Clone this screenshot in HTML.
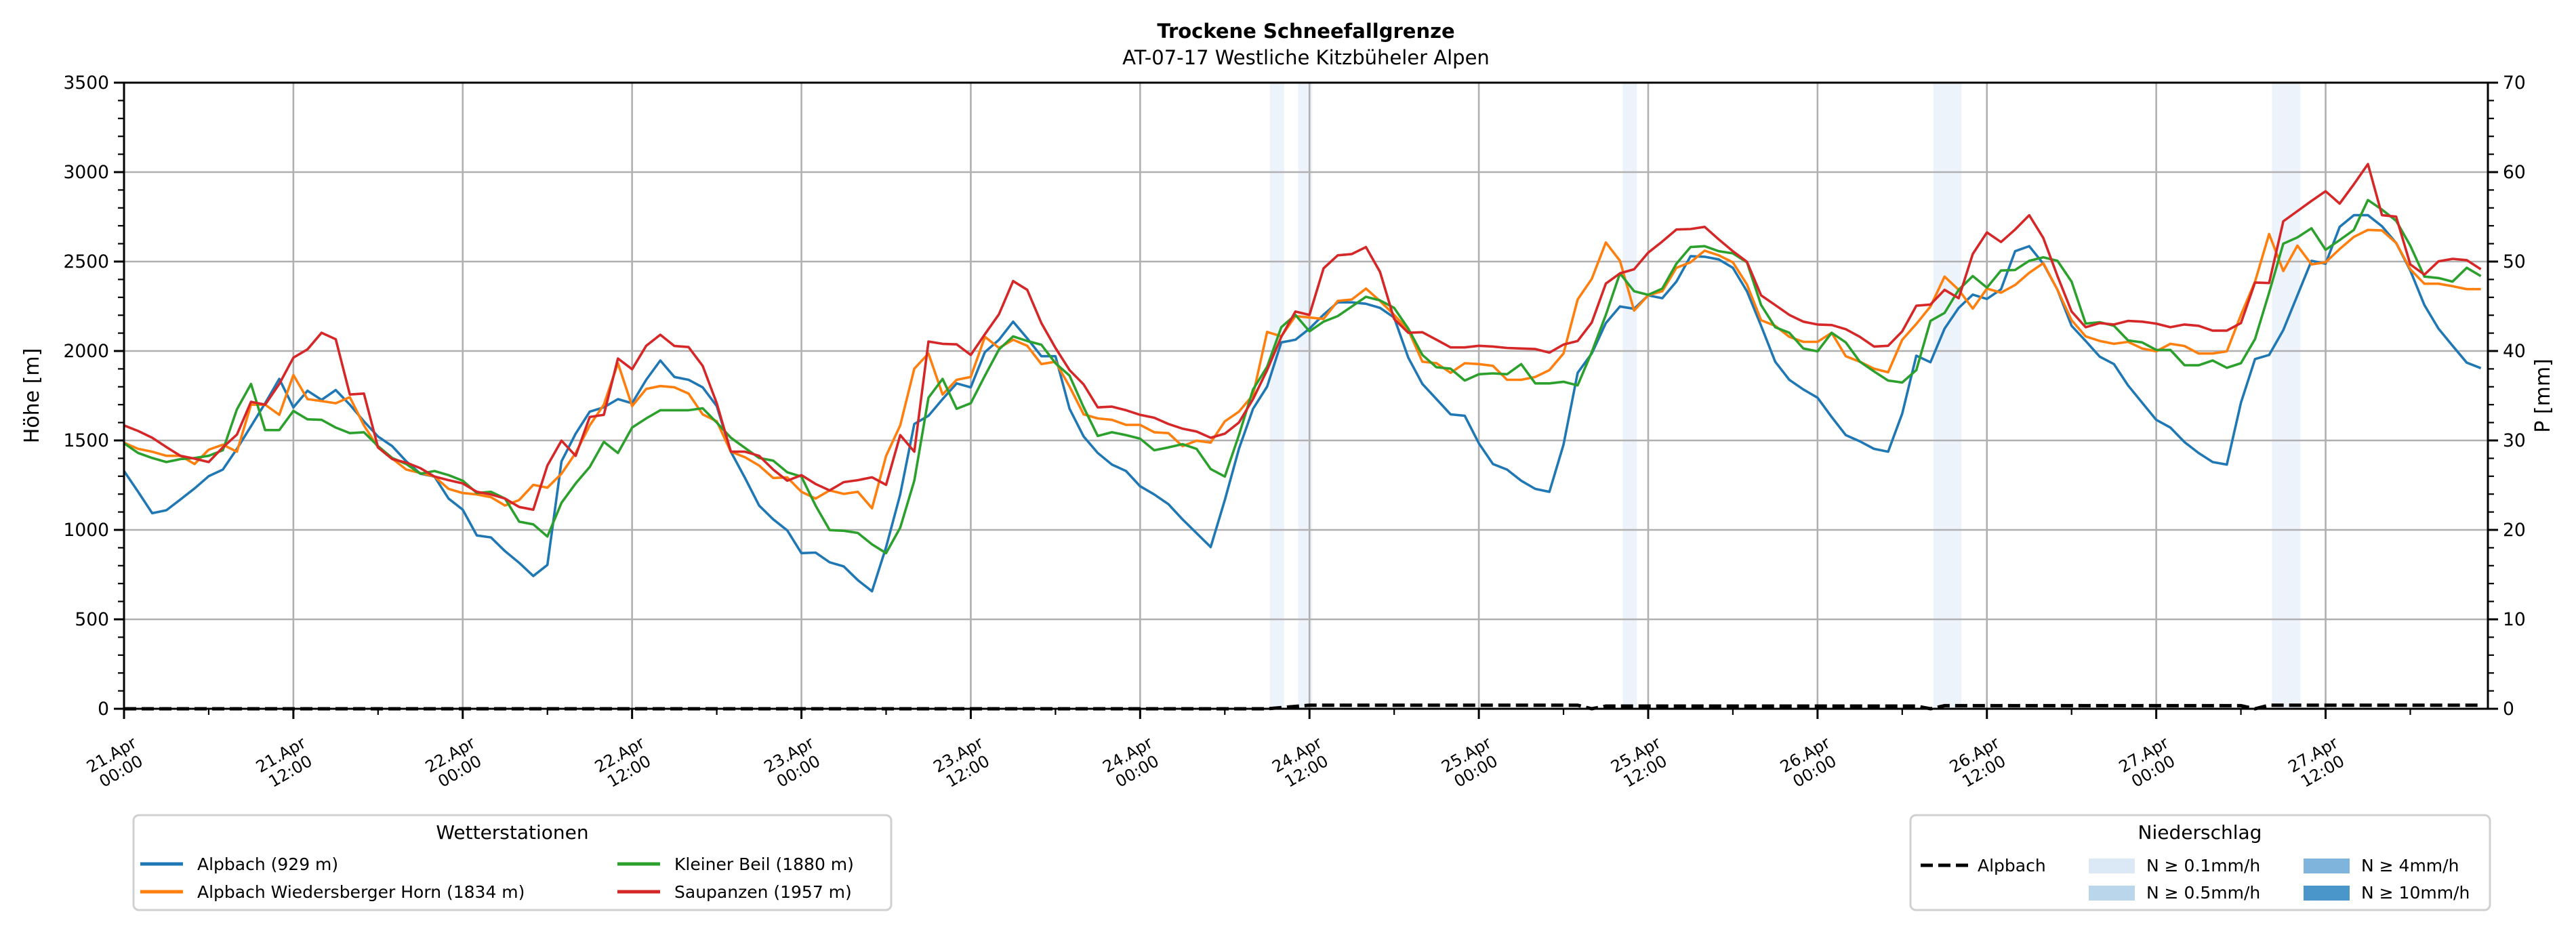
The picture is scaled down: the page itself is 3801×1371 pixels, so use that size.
<!DOCTYPE html>
<html><head><meta charset="utf-8"><style>
html,body{margin:0;padding:0;background:#fff;}
svg{display:block;font-family:"DejaVu Sans","Liberation Sans",sans-serif;}
</style></head><body>
<svg id="chart" width="3801" height="1371" viewBox="0 0 3801 1371" xmlns="http://www.w3.org/2000/svg">
<text x="1927" y="56" text-anchor="middle" font-size="29" font-weight="bold">Trockene Schneefallgrenze</text>
<text x="1927" y="95" text-anchor="middle" font-size="29">AT-07-17 Westliche Kitzbüheler Alpen</text>
<g id="shade"></g>
<g id="grid"></g>
<g id="series"></g>
<g id="axes"></g>
<text transform="translate(57,584) rotate(-90)" text-anchor="middle" font-size="30">Höhe [m]</text>
<text transform="translate(3762,584) rotate(-90)" text-anchor="middle" font-size="30">P [mm]</text>

<g>
<rect x="197" y="1203" width="1118" height="140" rx="8" fill="#fff" stroke="#d0d0d0" stroke-width="3"/>
<text x="756" y="1238" text-anchor="middle" font-size="28">Wetterstationen</text>
<g><line x1="207" y1="1275" x2="270" y2="1275" stroke="#1f77b4" stroke-width="5"/><text x="291" y="1284" font-size="25">Alpbach (929 m)</text></g>
<g><line x1="207" y1="1316" x2="270" y2="1316" stroke="#ff7f0e" stroke-width="5"/><text x="291" y="1325" font-size="25">Alpbach Wiedersberger Horn (1834 m)</text></g>
<g><line x1="911" y1="1275" x2="974" y2="1275" stroke="#2ca02c" stroke-width="5"/><text x="995" y="1284" font-size="25">Kleiner Beil (1880 m)</text></g>
<g><line x1="911" y1="1316" x2="974" y2="1316" stroke="#d62728" stroke-width="5"/><text x="995" y="1325" font-size="25">Saupanzen (1957 m)</text></g>
</g>

<g>
<rect x="2819" y="1203" width="855" height="140" rx="8" fill="#fff" stroke="#d0d0d0" stroke-width="3"/>
<text x="3246" y="1238" text-anchor="middle" font-size="28">Niederschlag</text>
<g><line x1="2834" y1="1277" x2="2904" y2="1277" stroke="#000" stroke-width="5" stroke-dasharray="18,8"/><text x="2918" y="1286" font-size="25">Alpbach</text></g>
<g><rect x="3082" y="1267" width="68" height="22" fill="#dbe9f6"/><text x="3167" y="1286" font-size="25">N ≥ 0.1mm/h</text></g>
<g><rect x="3082" y="1307" width="68" height="22" fill="#bad6eb"/><text x="3167" y="1326" font-size="25">N ≥ 0.5mm/h</text></g>
<g><rect x="3399" y="1267" width="68" height="22" fill="#7fb5dc"/><text x="3484" y="1286" font-size="25">N ≥ 4mm/h</text></g>
<g><rect x="3399" y="1307" width="68" height="22" fill="#4a95c9"/><text x="3484" y="1326" font-size="25">N ≥ 10mm/h</text></g>
</g>
</svg>
<script>
const alpbach = [1329,1213,1093,1110,1170,1232,1300,1337,1453,1580,1708,1844,1685,1778,1727,1782,1700,1607,1522,1468,1383,1314,1298,1175,1113,969,958,881,816,742,804,1383,1538,1661,1685,1731,1708,1839,1947,1855,1839,1797,
1692,1437,1290,1136,1059,997,870,873,819,796,719,657,904,1198,1592,1638,1731,1819,1797,1994,2063,2164,2071,1971,1971,1677,1522,1430,1365,1329,1244,1198,1144,1059,982,904,1167,1453,1677,1801,2048,2063,
2125,2203,2272,2272,2264,2241,2187,1963,1816,1731,1646,1638,1484,1368,1337,1275,1229,1213,1476,1878,1986,2156,2249,2236,2311,2295,2388,2530,2527,2512,2465,2334,2141,1940,1839,1785,1739,1631,1530,1495,1453,1437,
1650,1974,1937,2125,2241,2315,2291,2345,2558,2586,2488,2342,2141,2056,1968,1927,1808,1711,1615,1572,1491,1430,1379,1365,1711,1955,1978,2117,2311,2504,2488,2694,2759,2759,2697,2604,2450,2257,2125,2029,1935,1904];
const wiedersberger = [1487,1453,1437,1414,1414,1368,1448,1476,1437,1700,1700,1643,1866,1731,1720,1708,1742,1584,1461,1399,1337,1318,1298,1229,1206,1198,1183,1136,1167,1252,1236,1314,1430,1584,1700,1932,1692,1788,1804,1797,1762,1646,
1607,1437,1406,1360,1290,1293,1213,1175,1221,1201,1213,1121,1414,1584,1901,1986,1757,1839,1855,2079,2017,2063,2029,1927,1940,1801,1646,1623,1615,1587,1587,1546,1541,1468,1499,1488,1607,1661,1754,2107,2082,2195,
2187,2179,2280,2288,2349,2280,2202,2117,1940,1932,1878,1932,1927,1917,1839,1839,1855,1893,1986,2288,2403,2607,2504,2226,2311,2334,2465,2496,2561,2535,2496,2372,2172,2141,2079,2051,2051,2102,1971,1940,1901,1881,
2063,2151,2249,2416,2342,2237,2349,2326,2369,2437,2491,2342,2172,2082,2056,2040,2051,2014,1998,2040,2028,1986,1986,1998,2202,2388,2654,2447,2589,2484,2496,2570,2638,2677,2674,2604,2457,2376,2376,2362,2346,2346];
const kleinerBeil = [1484,1430,1402,1379,1396,1402,1414,1445,1674,1816,1558,1558,1665,1618,1615,1572,1541,1546,1468,1402,1368,1314,1329,1306,1275,1206,1213,1175,1046,1031,963,1151,1260,1352,1492,1430,1572,1623,1669,1669,1669,1680,
1600,1515,1458,1402,1387,1322,1298,1136,999,995,983,919,870,1012,1275,1739,1844,1677,1708,1862,2009,2082,2056,2035,1932,1862,1685,1525,1546,1530,1510,1445,1461,1479,1453,1340,1298,1530,1785,1912,2133,2202,
2110,2164,2195,2249,2303,2283,2241,2125,1978,1909,1901,1835,1870,1875,1870,1927,1819,1819,1828,1808,1994,2202,2434,2334,2314,2349,2488,2581,2586,2558,2546,2496,2257,2133,2102,2014,1998,2102,2048,1940,1886,1835,
1824,1893,2168,2213,2342,2419,2354,2450,2453,2504,2524,2504,2388,2153,2161,2141,2059,2048,2006,2006,1921,1920,1947,1906,1932,2067,2326,2600,2635,2686,2566,2620,2677,2844,2790,2728,2589,2416,2408,2388,2465,2419];
const saupanzen = [1584,1553,1515,1463,1414,1398,1379,1461,1533,1716,1700,1816,1963,2009,2102,2066,1757,1762,1461,1396,1376,1345,1298,1278,1260,1213,1198,1175,1128,1113,1360,1499,1414,1631,1643,1958,1898,2029,2091,2028,2022,1917,
1708,1437,1437,1414,1337,1275,1306,1257,1221,1267,1278,1294,1252,1530,1437,2053,2040,2037,1978,2094,2206,2391,2342,2156,2017,1893,1813,1685,1689,1669,1643,1627,1592,1566,1550,1515,1538,1600,1731,1893,2079,2221,
2202,2462,2535,2542,2581,2442,2179,2102,2105,2063,2020,2020,2029,2025,2017,2014,2011,1991,2036,2056,2159,2377,2434,2457,2550,2612,2679,2682,2694,2624,2558,2499,2311,2257,2202,2164,2148,2145,2122,2079,2025,2029,
2110,2253,2260,2342,2295,2542,2663,2609,2679,2759,2632,2419,2221,2133,2156,2148,2168,2164,2153,2133,2148,2141,2114,2114,2156,2383,2380,2725,2782,2839,2893,2824,2932,3045,2759,2751,2484,2427,2501,2515,2508,2457];
const precipHours = [0,81,84,103,104,105,127,128,129,150,151,152,167];
const precipValues = [0,0,0.4,0.4,0,0.3,0.3,0,0.35,0.35,0,0.4,0.4];
const rainHours = [82,84,107,129,130,153,154];
const yTicks = [0,500,1000,1500,2000,2500,3000,3500];
const y2Ticks = [0,10,20,30,40,50,60,70];
const xTickLabels = [["21.Apr","00:00"],["21.Apr","12:00"],["22.Apr","00:00"],["22.Apr","12:00"],["23.Apr","00:00"],["23.Apr","12:00"],["24.Apr","00:00"],["24.Apr","12:00"],["25.Apr","00:00"],["25.Apr","12:00"],["26.Apr","00:00"],["26.Apr","12:00"],["27.Apr","00:00"],["27.Apr","12:00"]];

const NS="http://www.w3.org/2000/svg";
const L=183,R=3671,T=122,B=1046,XMAX=167.5;
const xs=h=>L+h*(R-L)/XMAX;
const ys=v=>B-v*(B-T)/3500;
const ys2=p=>B-p*(B-T)/70;
function mk(tag,attrs,parent){const e=document.createElementNS(NS,tag);for(const k in attrs)e.setAttribute(k,attrs[k]);parent.appendChild(e);return e;}
const shade=document.getElementById('shade'),grid=document.getElementById('grid'),series=document.getElementById('series'),axes=document.getElementById('axes');

rainHours.forEach(h=>{
  const r=mk('rect',{x:xs(h-0.8),y:T,width:xs(h+0.2)-xs(h-0.8),height:B-T,fill:'#edf3fa'},shade);
  
  
});
yTicks.forEach(v=>{
  if(v>0&&v<3500){const g=mk('line',{x1:L,x2:R,y1:ys(v),y2:ys(v),stroke:'#b0b0b0','stroke-width':2.6},grid);
  
  }
});
xTickLabels.forEach((lab,i)=>{
  const x=xs(i*12);
  if(i>0){const g=mk('line',{x1:x,x2:x,y1:T,y2:B,stroke:'#b0b0b0','stroke-width':2.6},grid);
  
  }
});

function drawLine(vals,color,name){
  const d=vals.map((v,i)=>(i?'L':'M')+xs(i).toFixed(1)+','+ys(v).toFixed(1)).join('');
  const p=mk('path',{d:d,fill:'none',stroke:color,'stroke-width':3.6,'stroke-linejoin':'round'},series);
  
  
}
drawLine(alpbach,'#1f77b4','line-alpbach');
drawLine(wiedersberger,'#ff7f0e','line-wiedersberger-horn');
drawLine(kleinerBeil,'#2ca02c','line-kleiner-beil');
drawLine(saupanzen,'#d62728','line-saupanzen');
const pd=precipHours.map((h,i)=>(i?'L':'M')+xs(h).toFixed(1)+','+ys2(precipValues[i]).toFixed(1)).join('');
const pp=mk('path',{d:pd,fill:'none',stroke:'#000','stroke-width':5,'stroke-dasharray':'18,8'},series);



const sp=mk('rect',{x:L,y:T,width:R-L,height:B-T,fill:'none',stroke:'#000','stroke-width':3},axes);


for(let v=0;v<=3500;v+=100){
  const major=v%500===0;
  mk('line',{x1:L-(major?15:9),x2:L,y1:ys(v),y2:ys(v),stroke:'#000','stroke-width':major?3:2.2},axes);
}
yTicks.forEach(v=>{
  const t=mk('text',{x:L-22,y:ys(v)+9,'text-anchor':'end','font-size':26.5},axes);
  t.textContent=v;
  
  
});
for(let p=0;p<=70;p+=2){
  const major=p%10===0;
  mk('line',{x1:R,x2:R+(major?15:9),y1:ys2(p),y2:ys2(p),stroke:'#000','stroke-width':major?3:2.2},axes);
}
y2Ticks.forEach(p=>{
  const t=mk('text',{x:R+22,y:ys2(p)+9,'text-anchor':'start','font-size':26.5},axes);
  t.textContent=p;
  
  
});
for(let h=0;h<=XMAX;h+=6){
  const major=h%12===0;
  mk('line',{x1:xs(h),x2:xs(h),y1:B,y2:B+(major?15:9),stroke:'#000','stroke-width':major?3:2.2},axes);
}
xTickLabels.forEach((lab,i)=>{
  const x=xs(i*12);
  const t=mk('text',{transform:`translate(${(x+22).toFixed(1)},1100) rotate(-30)`,'text-anchor':'middle','font-size':24},axes);
  
  
  const a=mk('tspan',{x:-42,y:0},t);a.textContent=lab[0];
  const b=mk('tspan',{x:-42,y:28},t);b.textContent=lab[1];
});
</script>
</body></html>
